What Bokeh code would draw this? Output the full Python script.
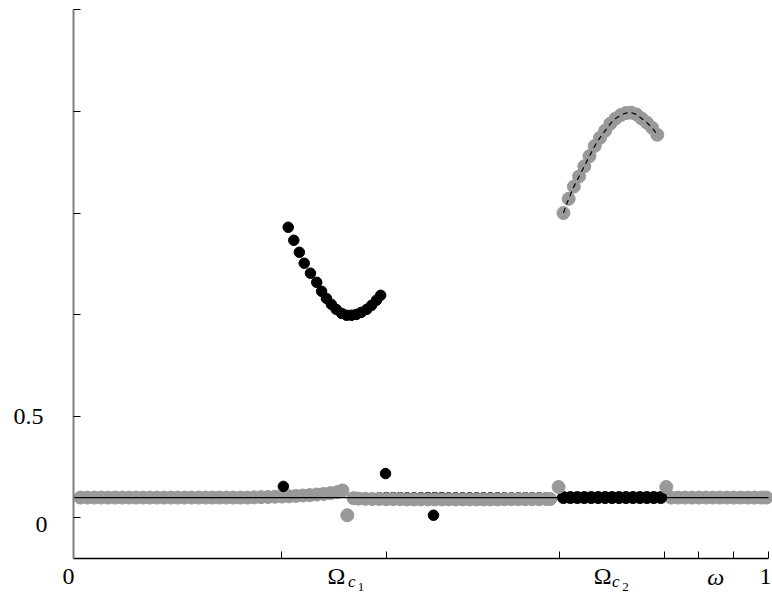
from bokeh.plotting import figure
from bokeh.models import FixedTicker
from bokeh.core.properties import value
from bokeh.embed import file_html
from bokeh.resources import INLINE

# ---- data ----
# dense grey band, segment A (0 .. Omega_c1)
band_a_x = [0.01, 0.02, 0.03, 0.04, 0.05, 0.06, 0.07, 0.08, 0.09, 0.10,
            0.11, 0.12, 0.13, 0.14, 0.15, 0.16, 0.17, 0.18, 0.19, 0.20,
            0.21, 0.22, 0.23, 0.24, 0.25, 0.26, 0.27, 0.28, 0.29, 0.30,
            0.31, 0.32, 0.33, 0.34, 0.35, 0.36, 0.37, 0.38, 0.387]
band_a_y = [0.100, 0.100, 0.100, 0.100, 0.100, 0.100, 0.100, 0.100, 0.100, 0.100,
            0.100, 0.100, 0.100, 0.100, 0.100, 0.100, 0.100, 0.100, 0.100, 0.100,
            0.100, 0.100, 0.100, 0.100, 0.100, 0.101, 0.102, 0.103, 0.104, 0.105,
            0.106, 0.108, 0.110, 0.112, 0.115, 0.118, 0.122, 0.127, 0.135]

# dense grey band, segment B (Omega_c1 .. 0.7)
band_b_x = [0.403, 0.41, 0.42, 0.43, 0.44, 0.45, 0.46, 0.47, 0.48, 0.49,
            0.50, 0.51, 0.52, 0.53, 0.54, 0.55, 0.56, 0.57, 0.58, 0.59,
            0.60, 0.61, 0.62, 0.63, 0.64, 0.65, 0.66, 0.67, 0.68, 0.686]
band_b_y = [0.097, 0.095, 0.094, 0.093, 0.093, 0.092, 0.092, 0.092, 0.091, 0.091,
            0.091, 0.091, 0.091, 0.091, 0.091, 0.091, 0.091, 0.091, 0.091, 0.091,
            0.091, 0.091, 0.092, 0.092, 0.092, 0.092, 0.092, 0.092, 0.093, 0.093]

# black points hidden under segment B
hidden_x = [0.44, 0.45, 0.46, 0.47, 0.48, 0.49, 0.50, 0.51, 0.52, 0.53,
            0.54, 0.55, 0.56, 0.57, 0.58, 0.59, 0.60, 0.61, 0.62, 0.63,
            0.64, 0.65, 0.66, 0.67, 0.68]
hidden_y = [0.100, 0.101, 0.101, 0.101, 0.100, 0.100, 0.100, 0.101, 0.101, 0.101,
            0.100, 0.100, 0.100, 0.100, 0.100, 0.100, 0.100, 0.100, 0.100, 0.100,
            0.100, 0.100, 0.100, 0.100, 0.100]

# dense black band (0.7 .. 0.85)
black_band_x = [0.705, 0.715, 0.725, 0.735, 0.745, 0.755, 0.765, 0.775,
                0.785, 0.795, 0.805, 0.815, 0.825, 0.835, 0.845]
black_band_y = [0.100, 0.100, 0.100, 0.100, 0.100, 0.100, 0.100, 0.100,
                0.100, 0.100, 0.100, 0.100, 0.100, 0.100, 0.100]

# dense grey band, segment C (0.85 .. 1)
band_c_x = [0.86, 0.87, 0.88, 0.89, 0.90, 0.91, 0.92, 0.93,
            0.94, 0.95, 0.96, 0.97, 0.98, 0.99, 0.997]
band_c_y = [0.100, 0.100, 0.100, 0.100, 0.100, 0.100, 0.100, 0.100,
            0.100, 0.100, 0.100, 0.100, 0.100, 0.100, 0.100]

# isolated points
grey_iso_x = [0.394, 0.698, 0.853]
grey_iso_y = [0.013, 0.152, 0.152]
black_iso_x = [0.302, 0.449, 0.518]
black_iso_y = [0.155, 0.218, 0.013]

# upper black branch
black_curve_x = [0.309, 0.317, 0.325, 0.332, 0.341, 0.350, 0.357, 0.364, 0.371, 0.378,
                 0.386, 0.393, 0.400, 0.407, 0.414, 0.422, 0.429, 0.436, 0.442]
black_curve_y = [1.430, 1.366, 1.307, 1.253, 1.204, 1.159, 1.115, 1.080, 1.051, 1.026,
                 1.006, 0.997, 0.997, 1.001, 1.011, 1.026, 1.046, 1.071, 1.095]

# upper grey branch
grey_curve_x = [0.705, 0.7125, 0.72, 0.7275, 0.735, 0.7425, 0.75, 0.7575, 0.765, 0.7725,
                0.78, 0.7875, 0.795, 0.8025, 0.81, 0.8175, 0.825, 0.8325, 0.84]
grey_curve_y = [1.50, 1.57, 1.63, 1.68, 1.73, 1.78, 1.83, 1.87, 1.905, 1.94,
                1.965, 1.982, 1.992, 1.994, 1.985, 1.965, 1.945, 1.92, 1.885]

# reference level line
ref_x = [0.0, 1.0]
ref_y = [0.1, 0.1]

x_ticks = [0, 0.3, 0.45, 0.7, 0.85, 0.9, 0.95, 1]
y_ticks = [0, 0.5, 1, 1.5, 2, 2.5]
y_tick_labels = ["0", "0.5"]
x_tick_labels = ["0", "1"]

GREY = "#999999"
FONT = "Liberation Serif"

p = figure(frame_width=772, frame_height=594,
           x_range=(-0.105, 1.0058), y_range=(-0.377, 2.5457),
           output_backend="svg", toolbar_location=None,
           min_border_left=0, min_border_right=0, min_border_top=0, min_border_bottom=0)
p.outline_line_color = None
p.grid.visible = False
p.background_fill_color = "white"

# glyphs
p.scatter(hidden_x, hidden_y, size=10, color="black")
p.scatter(band_a_x, band_a_y, size=13, color=GREY)
p.scatter(band_b_x, band_b_y, size=13, color=GREY)
p.scatter(band_c_x, band_c_y, size=13, color=GREY)
p.scatter(black_band_x, black_band_y, size=12, color="black")
p.scatter(grey_iso_x, grey_iso_y, size=13, color=GREY)
p.line(ref_x, ref_y, line_color="black", line_width=1.2)
p.scatter(black_iso_x, black_iso_y, size=10.5, color="black")
p.scatter(black_curve_x, black_curve_y, size=10.5, color="black")
p.scatter(grey_curve_x, grey_curve_y, size=13, color=GREY)
p.line(grey_curve_x, grey_curve_y, line_color="black", line_width=1.2, line_dash="5 4")

# axes placed at fixed locations inside the frame
xa = p.xaxis[0]
xa.fixed_location = -0.2
xa.ticker = FixedTicker(ticks=x_ticks)
xa.major_label_overrides = {t: "" for t in x_ticks}
xa.major_label_standoff = 0
xa.bounds = (0, 1)
xa.axis_line_color = "black"
xa.axis_line_width = 1.5
xa.major_tick_in = 7
xa.major_tick_out = 0
xa.major_tick_line_color = "black"
xa.minor_tick_line_color = None

ya = p.yaxis[0]
ya.fixed_location = 0
ya.ticker = FixedTicker(ticks=y_ticks)
ya.major_label_overrides = {t: "" for t in y_ticks}
ya.major_label_standoff = 0
ya.bounds = (-0.2, 2.5)
ya.axis_line_color = "#808080"
ya.axis_line_width = 2
ya.major_tick_in = 7
ya.major_tick_out = 0
ya.major_tick_line_color = "black"
ya.minor_tick_line_color = None

# tick labels as text
p.text(x=[-0.0374, -0.043], y=[-0.031, 0.5], text=y_tick_labels,
       text_font=value(FONT), text_font_size=value("24px"), text_color="black",
       text_align="right", text_baseline="middle")
p.text(x=[-0.007, 0.9957], y=[-0.290, -0.290], text=x_tick_labels,
       text_font=value(FONT), text_font_size=value("24px"), text_color="black",
       text_align="center", text_baseline="middle")

# special x labels: Omega_{c_1}, Omega_{c_2}, omega
p.text(x=[0.3655, 0.7486], y=[-0.288, -0.288], text=["Ω", "Ω"],
       text_font=value(FONT), text_font_size=value("24px"), text_color="black",
       text_align="left", text_baseline="middle")
p.text(x=[0.395, 0.775], y=[-0.3106, -0.3106], text=["c", "c"],
       text_font=value(FONT), text_font_size=value("17px"), text_font_style="italic",
       text_color="black", text_align="left", text_baseline="middle")
p.text(x=[0.409, 0.7895], y=[-0.3416, -0.3416], text=["1", "2"],
       text_font=value(FONT), text_font_size=value("13px"), text_color="black",
       text_align="left", text_baseline="middle")
p.text(x=[0.912], y=[-0.290], text=["ω"],
       text_font=value(FONT), text_font_size=value("24px"), text_font_style="italic",
       text_color="black", text_align="left", text_baseline="middle")

open("out.html", "w").write(file_html(p, INLINE))
